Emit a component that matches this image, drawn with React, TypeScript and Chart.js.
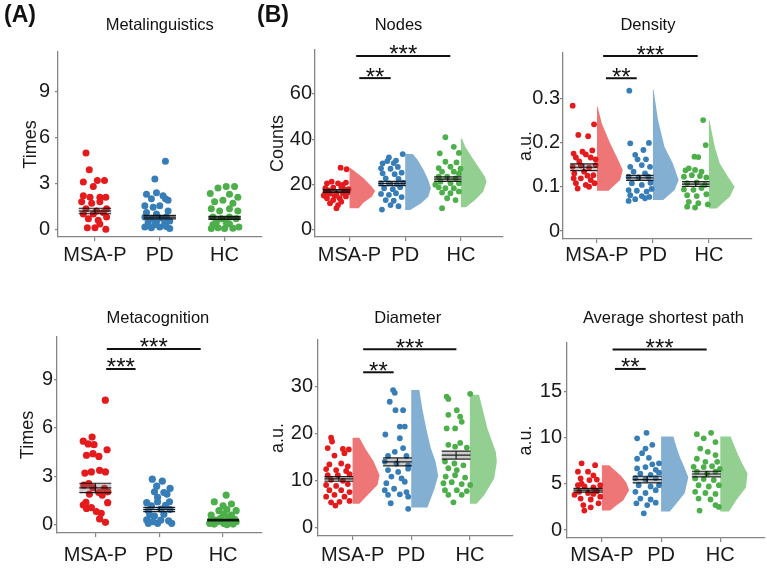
import React, { useEffect, useRef } from 'react';
import { Chart, registerables } from 'chart.js';

Chart.register(...registerables);

const categories = ['MSA-P', 'PD', 'HC'];

// ---- Metalinguistics (jitter, value) ----
const metaLingMSA = [[-0.6,5.0],[-0.38,3.9],[-0.78,3.1],[0.16,3.2],[0.64,3.2],[-0.11,2.8],[-0.78,2.2],[-0.33,2.1],[0.33,2.1],[0.73,2.1],[-0.89,1.8],[-0.22,1.7],[0.33,1.8],[-0.6,1.35],[0.78,1.35],[0.11,1.2],[-0.78,1.0],[-0.11,1.0],[0.56,1.1],[-0.44,0.7],[0.22,0.6],[0.78,0.8],[-0.51,0.1],[0,0.1],[0.73,0.0],[0.33,0.35]];
const metaLingPD = [[0.38,4.45],[-0.33,3.3],[0.38,2.0],[-0.89,2.3],[-0.22,2.4],[-0.56,2.0],[0.22,2.2],[0.56,1.9],[-1.0,1.55],[-0.44,1.45],[0,1.55],[0.56,1.2],[-0.89,1.1],[-0.22,1.0],[-1.0,0.8],[-0.56,0.7],[0,0.75],[0.44,0.8],[-0.78,0.45],[-0.22,0.5],[0.33,0.45],[0.67,0.55],[-1.0,0.15],[-0.56,0.1],[0,0.15],[0.44,0.18],[0.67,0.05],[-0.33,0.3]];
const metaLingHC = [[0.11,2.8],[0.67,2.8],[-0.44,2.7],[-0.96,2.35],[0.33,2.3],[0.89,2.1],[-0.67,1.8],[-0.11,1.9],[0.56,1.7],[-0.89,1.35],[-0.33,1.2],[0.33,1.35],[0.89,1.2],[-0.78,0.8],[-0.22,0.7],[0.33,0.8],[0.78,0.7],[-0.56,0.45],[0.11,0.45],[-0.89,0.05],[-0.44,0.1],[0,0.05],[0.56,0.08],[0.96,0.15],[0.33,0.35],[-0.78,0.3]];
const metaLingMean = [1.2, 0.8, 0.75];
const metaLingSE = [0.18, 0.12, 0.1];
const metaLingSig: any[] = [];

// ---- Metacognition ----
const metaCogMSA = [[0.68,7.7],[-0.82,5.17],[-0.22,5.42],[-0.49,5.0],[-0.09,4.95],[-0.6,4.3],[-0.16,4.4],[0.24,4.23],[0.8,4.64],[-0.71,3.2],[-0.27,3.27],[0.29,3.37],[0.69,3.27],[-0.78,2.45],[0.62,2.25],[0.47,1.84],[0.84,1.37],[-0.82,1.23],[-0.6,1.02],[-0.27,1.07],[0.07,0.82],[0.4,0.72],[0.29,0.37],[0.69,0.16],[-0.64,1.39],[-0.16,2.3],[0.24,2.0],[-0.45,2.55],[0.85,2.04],[-0.4,1.9]];
const metaCogPD = [[-0.47,2.82],[0.21,2.7],[-0.17,2.39],[0.74,2.25],[-0.32,2.04],[0.32,2.0],[-0.85,1.37],[-0.11,1.43],[0.7,1.43],[-0.53,1.17],[-0.74,0.88],[0.11,0.97],[0.74,0.95],[-0.64,0.61],[0.32,0.66],[-0.85,0.31],[-0.43,0.2],[0.11,0.3],[0.64,0.25],[-0.74,0.1],[-0.11,0.1],[0.85,0.1],[-0.32,0.55],[0.43,1.2],[-0.11,1.7],[0.53,1.9]];
const metaCogHC = [[0.21,1.84],[-0.6,1.43],[0,1.17],[0.57,1.29],[-0.28,0.88],[0.26,0.95],[0.89,0.88],[-0.81,0.61],[0.04,0.66],[0.57,0.6],[-0.81,0.31],[-0.38,0.2],[0.04,0.1],[0.47,0.3],[0.89,0.2],[-0.6,0.05],[0.26,0.02],[0.68,0.05],[-0.17,0.4],[-0.91,0.1],[0.36,0.5],[-0.49,0.3],[0.79,0.35],[-0.06,0.25]];
const metaCogMean = [2.28, 0.95, 0.3];
const metaCogSE = [0.29, 0.13, 0.05];
const metaCogSig = [{ x0: 1.18, x1: 2.65, y: 10.86, label: '***' }, { x0: 1.17, x1: 1.63, y: 9.63, label: '***' }];

// ---- Nodes ----
const nodesMSA = [[0.31,27.5],[0.76,26.8],[-0.71,20.6],[-0.36,21.3],[0.12,20.6],[0.48,19.9],[0.71,20.9],[-0.83,18.4],[-0.24,18.7],[0.36,19.0],[-0.83,16.2],[-0.48,16.0],[0,16.0],[0.48,16.2],[0.83,16.5],[-0.71,14.0],[-0.24,13.2],[0.24,14.0],[0.71,14.8],[-0.48,11.8],[0.12,11.0],[0,9.6],[-0.6,17.5],[0.6,17.8],[-0.12,15.0],[0.36,12.5],[0.9,18.0],[-0.95,15.2]];
const nodesPD = [[0.79,33.5],[-0.24,32],[0.29,30.6],[-0.71,29.4],[0.12,29.5],[-0.36,30.4],[-0.83,27.2],[-0.12,27.0],[0.43,27.8],[-0.71,25],[0.19,24.6],[0.71,25.3],[-0.48,22.8],[0.48,22.5],[-0.83,20.6],[-0.24,20.6],[0.36,20.3],[0.83,20.9],[-0.6,18.4],[0.05,18.0],[0.6,18.9],[-0.83,15.9],[-0.24,15.5],[0.29,16.2],[-0.48,13.2],[0.12,12.9],[0.71,14.5],[-0.76,9.0],[-0.12,11.0],[0.48,10.5]];
const nodesHC = [[-0.18,40.9],[0.45,36.7],[-0.6,33.8],[0.83,34],[-0.18,30.1],[0.65,29.8],[0.2,27.9],[-0.68,27.3],[-0.43,25.7],[0.45,25.7],[0.83,24.9],[-0.68,23.5],[-0.05,23.5],[0.58,22.8],[-0.55,21.3],[0.2,20.6],[0.83,20.6],[-0.68,18.8],[-0.18,18.4],[0.45,18.4],[-0.43,16.5],[0.2,16.2],[0.83,17.0],[-0.05,14.0],[0.58,13.2],[-0.43,9.6],[-0.93,20.0],[0.95,27.0]];
const nodesMean = [17.2, 20.5, 22.4];
const nodesSE = [0.6, 0.9, 1.0];
const nodesViolinMSA = [[9.6,0.36],[12.1,0.55],[14.7,0.87],[17.2,1.0],[19.1,0.87],[22.8,0.55],[25.7,0.23],[27.5,0.02]];
const nodesViolinPD = [[8.8,0.2],[11.8,0.62],[14.7,0.9],[18.4,1.0],[22.1,0.9],[26.5,0.72],[30.9,0.49],[33.5,0.3]];
const nodesViolinHC = [[10.0,0.2],[13.2,0.55],[16.9,0.87],[21.3,1.0],[23.5,0.94],[27.9,0.68],[32.3,0.42],[36.7,0.17],[40.4,0.04]];
const nodesSig = [{ x0: 1.12, x1: 2.81, y: 76.8, label: '***' }, { x0: 1.175, x1: 1.74, y: 67.0, label: '**' }];

// ---- Density ----
const densMSA = [[-0.83,0.283],[0.76,0.241],[-0.41,0.217],[0.32,0.214],[-0.76,0.175],[-0.1,0.179],[0.63,0.182],[0.15,0.173],[-0.59,0.166],[0.51,0.166],[-0.83,0.145],[-0.22,0.148],[0.39,0.143],[0.88,0.149],[-0.71,0.13],[0.02,0.134],[0.71,0.126],[-0.76,0.119],[-0.22,0.119],[0.51,0.115],[-0.59,0.108],[0.15,0.104],[0.8,0.108],[-0.46,0.096],[0.39,0.1],[-0.34,0.157],[0.88,0.162],[0.27,0.125]];
const densPD = [[-0.78,0.317],[-0.71,0.198],[0.68,0.199],[0.27,0.183],[-0.34,0.172],[-0.17,0.162],[0.46,0.162],[-0.71,0.145],[0.15,0.149],[0.76,0.145],[-0.46,0.134],[0.39,0.13],[-0.83,0.1226],[-0.1,0.121],[0.63,0.1226],[-0.59,0.108],[0.15,0.104],[0.8,0.109],[-0.83,0.0925],[-0.22,0.091],[0.51,0.089],[-0.71,0.081],[0.15,0.079],[0.71,0.077],[-0.83,0.068],[0.39,0.074],[-0.34,0.072],[0.88,0.095]];
const densHC = [[0.55,0.2506],[0.74,0.194],[-0.1,0.168],[0.19,0.167],[-0.52,0.1415],[-0.76,0.137],[-0.05,0.138],[0.43,0.134],[-0.88,0.1226],[-0.29,0.126],[0.31,0.124],[0.79,0.121],[-0.64,0.108],[0.07,0.11],[0.67,0.104],[-0.88,0.094],[-0.17,0.093],[0.43,0.097],[-0.64,0.081],[0.07,0.079],[0.79,0.083],[-0.52,0.066],[0.19,0.063],[-0.64,0.055],[-0.05,0.053],[0.9,0.06]];
const densMean = [0.144, 0.12, 0.106];
const densSE = [0.0075, 0.0055, 0.0055];
const densViolinMSA = [[0.091,0.45],[0.115,0.9],[0.138,1.0],[0.160,0.83],[0.198,0.51],[0.243,0.19],[0.281,0.02]];
const densViolinPD = [[0.07,0.4],[0.0926,0.84],[0.115,1.0],[0.153,0.77],[0.19,0.45],[0.25,0.2],[0.32,0.02]];
const densViolinHC = [[0.051,0.3],[0.0774,0.81],[0.1,1.0],[0.1226,0.74],[0.153,0.42],[0.19,0.23],[0.25,0.02]];
const densSig = [{ x0: 1.11, x1: 2.8, y: 0.395, label: '***' }, { x0: 1.16, x1: 1.71, y: 0.345, label: '**' }];

// ---- Diameter ----
const diamMSA = [[-0.55,19.1],[-0.48,18.3],[0.29,16.7],[0.71,16.6],[-0.79,16.9],[-0.31,15.3],[0.4,15.8],[-0.67,13.4],[0.17,13.6],[0.64,13.0],[-0.9,12.4],[-0.19,12.2],[0.52,12.0],[-0.79,11.1],[-0.07,11.1],[0.76,11.3],[-0.55,10.1],[0.29,9.9],[-0.9,9.0],[-0.19,8.8],[0.64,9.2],[-0.67,7.9],[0.17,7.9],[0.76,7.5],[-0.9,6.5],[-0.31,6.9],[0.4,6.5],[-0.55,5.3],[0.05,5.4],[0.76,5.6],[-0.24,4.6]];
const diamPD = [[-0.31,29.3],[-0.19,28.7],[-0.55,26.8],[-0.14,25],[0.4,25],[0.52,21.5],[0.17,21.5],[-0.86,19.8],[0.17,19.0],[0.4,16.9],[-0.19,16.1],[-0.67,15.2],[0.64,15.2],[-0.9,14.0],[-0.07,13.6],[0.76,13.2],[-0.67,12.2],[0.05,11.8],[0.76,12.5],[-0.43,10.8],[0.29,10.4],[-0.79,9.4],[0.52,9.7],[-0.9,7.9],[-0.24,8.2],[0.64,7.5],[-0.67,6.9],[0.17,7.0],[0.76,6.5],[-0.48,5.1],[0.76,3.9]];
const diamHC = [[-0.67,27.9],[-0.55,27.4],[1.0,28.5],[-0.55,24],[0.05,25],[0.29,23.6],[0.4,22.5],[-0.07,21.1],[-0.67,21.1],[-0.55,17.6],[-0.07,17.2],[0.29,18.0],[0.76,17.0],[-0.79,14.0],[-0.12,13.6],[0.52,13.2],[-0.55,12.6],[0.05,12.2],[-0.74,10.8],[-0.07,11.1],[0.64,10.6],[-0.9,9.4],[-0.31,9.6],[0.4,9.2],[1.0,9.0],[-0.79,7.9],[0.05,7.9],[0.76,7.7],[-0.55,6.9],[0.4,6.9],[-0.19,5.3]];
const diamMean = [10.3, 13.95, 15.4];
const diamSE = [0.5, 0.85, 0.85];
const diamViolinMSA = [[5.0,0.25],[6.8,0.55],[9.0,0.92],[11.1,1.0],[14.0,0.78],[16.8,0.47],[19.1,0.25]];
const diamViolinPD = [[4.2,0.6],[8.0,0.85],[11.0,1.0],[14.0,0.9],[17.0,0.72],[21.0,0.56],[25.0,0.42],[29.3,0.3]];
const diamViolinHC = [[5.0,0.25],[6.8,0.53],[10.4,0.9],[14.0,1.0],[16.1,0.96],[21.1,0.65],[28.3,0.34]];
const diamSig = [{ x0: 1.18, x1: 2.77, y: 38.0, label: '***' }, { x0: 1.18, x1: 1.7, y: 33.1, label: '**' }];

// ---- Average shortest path ----
const aspMSA = [[-0.45,7.2],[0.5,7.0],[-0.71,6.3],[0,6.3],[0.38,5.9],[-0.52,5.57],[0.1,5.4],[0.62,5.45],[-0.71,4.85],[-0.24,4.7],[0.38,4.6],[0.86,4.85],[-0.62,4.13],[0,4.0],[0.62,4.2],[-0.52,3.4],[0.19,3.3],[0.74,2.88],[-0.33,2.7],[-0.26,2.1],[0.19,2.45],[-0.95,3.8],[0.86,3.6],[0.38,3.9],[-0.45,5.0]];
const aspPD = [[-0.05,10.5],[-0.71,9.9],[0.36,9.2],[-0.12,8.8],[-0.36,8.3],[-0.71,7.7],[0.12,7.8],[0.83,7.2],[0.36,7.1],[-0.71,6.65],[-0.12,6.8],[0.6,6.5],[-0.48,6.1],[0.24,5.95],[0.83,6.2],[-0.83,5.6],[-0.12,5.5],[0.6,5.6],[-0.6,4.85],[0.24,4.7],[0.83,4.85],[-0.83,4.13],[-0.12,4.0],[0.6,4.3],[-0.48,3.4],[0.24,3.3],[-0.76,2.88],[0,2.7],[0.6,2.95],[-0.24,1.8]];
const aspHC = [[-0.67,10.35],[0.33,10.5],[0.64,9.5],[-0.19,9.9],[-0.43,8.8],[0.1,8.45],[0.64,8.1],[-0.67,7.7],[-0.07,7.37],[0.76,7.37],[-0.9,6.83],[-0.19,6.8],[0.4,6.9],[0.95,6.6],[-0.67,6.3],[0.05,6.1],[0.64,6.3],[-0.79,5.57],[-0.19,5.5],[0.52,5.4],[-0.55,4.85],[0.17,4.7],[0.88,4.85],[-0.79,4.13],[-0.07,4.0],[0.64,3.9],[-0.55,3.4],[0.29,3.3],[0.64,2.7],[0.88,2.5],[-0.48,2.1]];
const aspMean = [4.3, 5.45, 6.05];
const aspSE = [0.2, 0.36, 0.3];
const aspViolinMSA = [[2.1,0.3],[2.7,0.55],[3.2,0.78],[4.3,1.0],[5.1,0.9],[5.85,0.7],[6.5,0.45],[7.0,0.27]];
const aspViolinPD = [[2.0,0.32],[3.0,0.6],[4.0,0.87],[5.7,1.0],[6.8,0.85],[7.8,0.7],[9.0,0.56],[10.1,0.45]];
const aspViolinHC = [[2.0,0.32],[3.2,0.58],[4.6,0.94],[6.1,1.0],[7.2,0.8],[8.2,0.64],[9.2,0.5],[10.1,0.38]];
const aspSig = [{ x0: 1.18, x1: 2.77, y: 19.5, label: '***' }, { x0: 1.22, x1: 1.74, y: 17.4, label: '**' }];

// ---- tick values ----
const timesTicks = [0, 3, 6, 9];
const nodesTicks = [0, 20, 40, 60];
const densTicks = [0, 0.1, 0.2, 0.3];
const diamTicks = [0, 10, 20, 30];
const aspTicks = [0, 5, 10, 15];

// ---- styles ----
const FONT = '"Liberation Sans", Arial, Helvetica, sans-serif';
const dotColors = ['#E41A1C', '#377EB8', '#4DAF4A'];
const violinColors = ['rgba(228,26,28,0.6)', 'rgba(55,126,184,0.62)', 'rgba(77,175,74,0.6)'];
const axisColor = '#858585';
const VIOLIN_W = 0.46;
const DOT_SHIFT = -0.235;

const panels: any[] = [
  { title: 'Metalinguistics', yTitle: 'Times', groups: [metaLingMSA, metaLingPD, metaLingHC], means: metaLingMean, ses: metaLingSE, sig: metaLingSig, yTicks: timesTicks,
    box: { left: 0, top: 0, w: 265, h: 270 }, padTop: 52, padRight: 3, wy: 58, hx: 33, xMin: 0.43, xMax: 3.57, yMin: -0.5, yMax: 11.6, yTickPad: 5, xTickPad: 2, yTitlePad: 20, titleX: 2.0, titleY: 30, dotR: 3.5 },
  { title: 'Nodes', yTitle: 'Counts', groups: [nodesMSA, nodesPD, nodesHC], means: nodesMean, ses: nodesSE, sig: nodesSig, yTicks: nodesTicks, violins: [nodesViolinMSA, nodesViolinPD, nodesViolinHC],
    box: { left: 257, top: 0, w: 248, h: 270 }, padTop: 50, padRight: 0, wy: 58, hx: 33, xMin: 0.38, xMax: 3.74, yMin: -3.1, yMax: 79.4, yTickPad: 0, xTickPad: 2, yTitlePad: 10, titleX: 1.88, titleY: 30, dotR: 2.9 },
  { title: 'Density', yTitle: 'a.u.', groups: [densMSA, densPD, densHC], means: densMean, ses: densSE, sig: densSig, yTicks: densTicks, violins: [densViolinMSA, densViolinPD, densViolinHC],
    box: { left: 505, top: 0, w: 257, h: 270 }, padTop: 53, padRight: 10, wy: 58, hx: 31, xMin: 0.393, xMax: 3.77, yMin: -0.018, yMax: 0.402, yTickPad: 0, xTickPad: 0, yTitlePad: 10, titleX: 1.91, titleY: 30, dotR: 2.9 },
  { title: 'Metacognition', yTitle: 'Times', groups: [metaCogMSA, metaCogPD, metaCogHC], means: metaCogMean, ses: metaCogSE, sig: metaCogSig, yTicks: timesTicks,
    box: { left: 0, top: 270, w: 265, h: 303 }, padTop: 67, padRight: 0, wy: 57, hx: 40, xMin: 0.4, xMax: 3.6, yMin: -0.5, yMax: 11.6, yTickPad: 1, xTickPad: 6, yTitlePad: 17, titleX: 1.98, titleY: 53, dotR: 3.6 },
  { title: 'Diameter', yTitle: 'a.u.', groups: [diamMSA, diamPD, diamHC], means: diamMean, ses: diamSE, sig: diamSig, yTicks: diamTicks, violins: [diamViolinMSA, diamViolinPD, diamViolinHC],
    box: { left: 260, top: 270, w: 255, h: 303 }, padTop: 70, padRight: 0, wy: 58, hx: 37, xMin: 0.41, xMax: 3.72, yMin: -1.9, yMax: 40, yTickPad: 2, xTickPad: 3, yTitlePad: 7, titleX: 1.94, titleY: 53, dotR: 2.9 },
  { title: 'Average shortest path', yTitle: 'a.u.', groups: [aspMSA, aspPD, aspHC], means: aspMean, ses: aspSE, sig: aspSig, yTicks: aspTicks, violins: [aspViolinMSA, aspViolinPD, aspViolinHC],
    box: { left: 509, top: 270, w: 258, h: 303 }, padTop: 73, padRight: 2, wy: 58, hx: 35, xMin: 0.41, xMax: 3.74, yMin: -0.86, yMax: 20.2, yTickPad: 2, xTickPad: 1, yTitlePad: 6, titleX: 2.04, titleY: 53, dotR: 2.9 },
];

const textPlugin = {
  id: 'panelText',
  afterDatasetsDraw(chart: any, _args: any, opts: any) {
    const { ctx } = chart;
    const xs = chart.scales.x;
    const ys = chart.scales.y;
    ctx.save();
    ctx.fillStyle = '#111';
    ctx.textAlign = 'center';
    ctx.textBaseline = 'alphabetic';
    ctx.font = `16.5px ${FONT}`;
    ctx.fillText(opts.title, xs.getPixelForValue(opts.titleX), opts.titleY);
    ctx.font = `24px ${FONT}`;
    for (const b of opts.sig) {
      ctx.fillText(b.label, xs.getPixelForValue((b.x0 + b.x1) / 2), ys.getPixelForValue(b.y) + 6.5);
    }
    ctx.restore();
  },
};

function buildConfig(p: any) {
  const datasets: any[] = [];
  const hasViolin = !!p.violins;
  p.groups.forEach((g: number[][], i: number) => {
    const cat = i + 1;
    const center = hasViolin ? cat + DOT_SHIFT : cat;
    const hw = hasViolin ? 0.24 : 0.23;
    const ebw = hasViolin ? 0.245 : 0.25;
    datasets.push({
      type: 'scatter',
      data: g.map(([j, v]) => ({ x: center + j * hw, y: v })),
      backgroundColor: dotColors[i],
      borderWidth: 0,
      pointRadius: p.dotR,
      pointHoverRadius: p.dotR,
      order: 3,
    });
    if (hasViolin) {
      const prof = p.violins[i];
      const poly = [
        { x: cat, y: prof[0][0] },
        ...prof.map(([v, w]: number[]) => ({ x: cat + w * VIOLIN_W, y: v })),
        { x: cat, y: prof[prof.length - 1][0] },
      ];
      datasets.push({
        type: 'line', data: poly, fill: 'shape', backgroundColor: violinColors[i],
        borderWidth: 0, borderColor: 'rgba(0,0,0,0)', pointRadius: 0, tension: 0, order: 4,
      });
    }
    const m = p.means[i];
    const s = p.ses[i];
    const x0 = center - ebw;
    const x1 = center + ebw;
    datasets.push({
      type: 'line',
      data: [{ x: x0, y: m - s }, { x: x1, y: m - s }, { x: x1, y: m + s }, { x: x0, y: m + s }],
      fill: 'shape', backgroundColor: 'rgba(110,110,110,0.35)', borderWidth: 0, borderColor: 'rgba(0,0,0,0)', pointRadius: 0, order: 2,
    });
    datasets.push({
      type: 'line',
      data: [
        { x: x0, y: m + s }, { x: x1, y: m + s }, { x: center, y: null },
        { x: x0, y: m }, { x: x1, y: m }, { x: center, y: null },
        { x: x0, y: m - s }, { x: x1, y: m - s }, { x: center, y: null },
        { x: center, y: m - s }, { x: center, y: m + s },
      ],
      fill: false, borderColor: 'rgba(0,0,0,0.85)', borderWidth: 1.2, pointRadius: 0, spanGaps: false, order: 1,
    });
  });
  p.sig.forEach((b: any) => {
    datasets.push({
      type: 'line', data: [{ x: b.x0, y: b.y }, { x: b.x1, y: b.y }],
      fill: false, borderColor: '#111', borderWidth: 2, pointRadius: 0, order: 0,
    });
  });

  return {
    type: 'scatter',
    data: { datasets },
    plugins: [textPlugin],
    options: {
      animation: false,
      responsive: false,
      events: [],
      layout: { padding: { top: p.padTop, right: p.padRight, left: 0, bottom: 0 } },
      plugins: {
        legend: { display: false },
        tooltip: { enabled: false },
        title: { display: false },
        panelText: { title: p.title, titleX: p.titleX, titleY: p.titleY, sig: p.sig },
      },
      scales: {
        x: {
          type: 'linear', bounds: 'data', min: p.xMin, max: p.xMax,
          afterBuildTicks: (s: any) => { s.ticks = [1, 2, 3].map((v) => ({ value: v })); },
          afterFit: (s: any) => { s.height = p.hx; },
          ticks: {
            callback: (v: any) => categories[Math.round(v) - 1] ?? '',
            font: { family: FONT, size: 20 }, color: '#1a1a1a', padding: p.xTickPad,
            maxRotation: 0, minRotation: 0, autoSkip: false,
          },
          grid: { display: true, drawOnChartArea: false, drawTicks: true, tickLength: 4, color: axisColor, lineWidth: 1.2 },
          border: { display: true, color: axisColor, width: 1.3 },
        },
        y: {
          type: 'linear', bounds: 'data', min: p.yMin, max: p.yMax,
          afterBuildTicks: (s: any) => { s.ticks = p.yTicks.map((v: number) => ({ value: v })); },
          afterFit: (s: any) => { s.width = p.wy; },
          ticks: {
            callback: (v: any) => String(v),
            font: { family: FONT, size: 20 }, color: '#1a1a1a', padding: p.yTickPad,
          },
          title: { display: true, text: p.yTitle, font: { family: FONT, size: 18 }, color: '#1a1a1a', padding: { top: p.yTitlePad, bottom: 0 } },
          grid: { display: true, drawOnChartArea: false, drawTicks: true, tickLength: 3, color: axisColor, lineWidth: 1.2 },
          border: { display: true, color: axisColor, width: 1.3 },
        },
      },
    },
  };
}

function Panel({ p }: { p: any }) {
  const ref = useRef<HTMLCanvasElement>(null);
  useEffect(() => {
    const chart = new Chart(ref.current as HTMLCanvasElement, buildConfig(p) as any);
    return () => chart.destroy();
  }, []);
  return (
    <canvas
      ref={ref}
      width={p.box.w}
      height={p.box.h}
      style={{ position: 'absolute', left: p.box.left, top: p.box.top, width: p.box.w, height: p.box.h }}
    />
  );
}

const labelStyle: any = { position: 'absolute', top: 3, fontFamily: FONT, fontWeight: 'bold', fontSize: 23, lineHeight: '23px', color: '#111' };

export default function App() {
  return (
    <div style={{ position: 'absolute', left: 0, top: 0, width: 767, height: 573, background: '#fff', overflow: 'hidden' }}>
      {panels.map((p, i) => <Panel key={i} p={p} />)}
      <div style={{ ...labelStyle, left: 4 }}>(A)</div>
      <div style={{ ...labelStyle, left: 257 }}>(B)</div>
    </div>
  );
}
